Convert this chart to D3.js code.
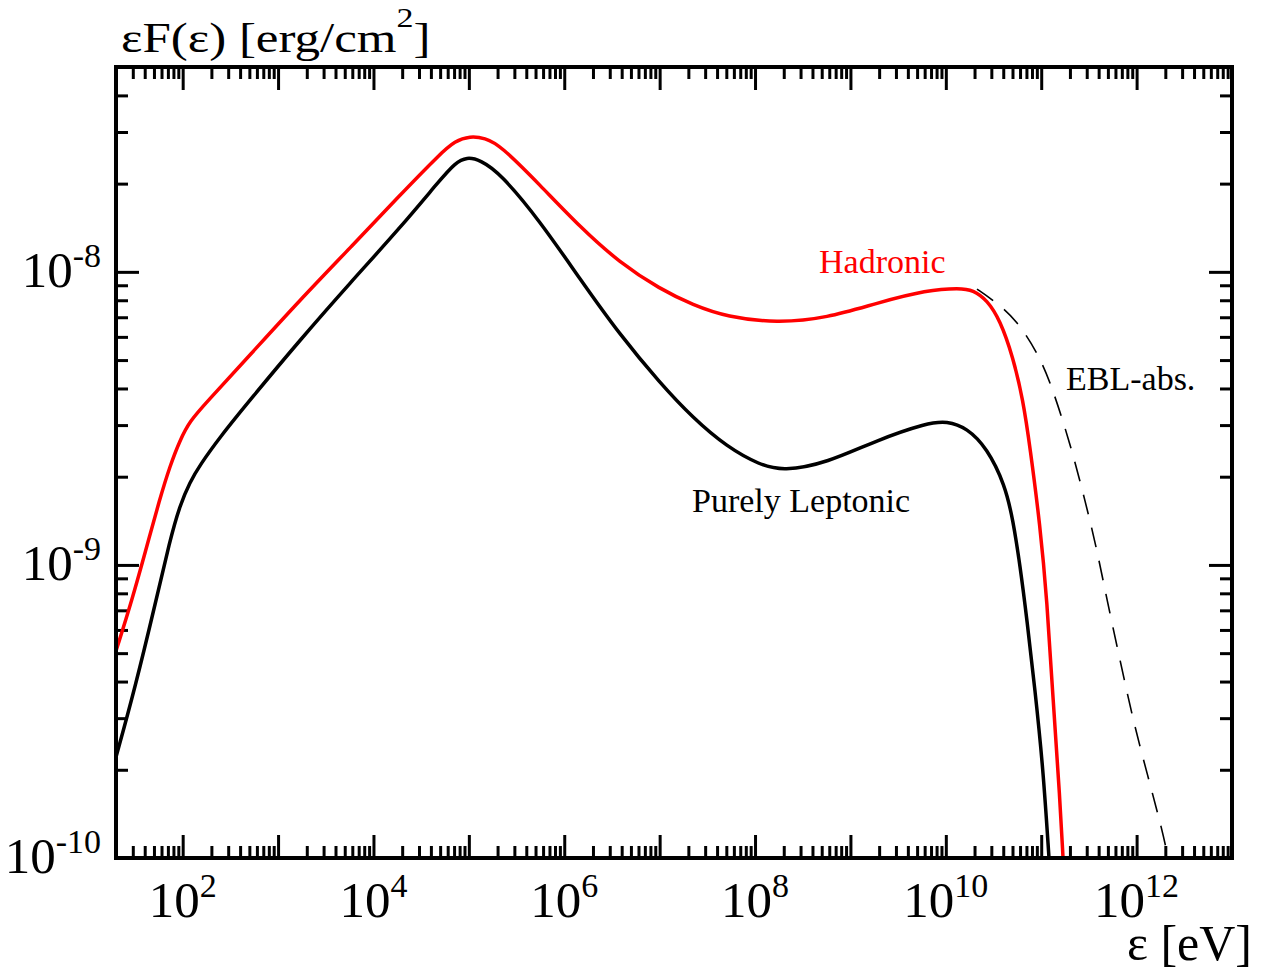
<!DOCTYPE html>
<html><head><meta charset="utf-8">
<script src="https://cdn.jsdelivr.net/npm/d3@7"></script>
<style>
body{margin:0;background:#fff}
svg{display:block}
text{font-family:"Liberation Serif","Times New Roman",serif;fill:#000}
</style>
</head><body>
<svg id="chart" width="1271" height="973"></svg>
<script>
// ---- data (energy in eV, flux in erg/cm^2) ----
const leptonicE = [20, 31.6, 51.3, 73.6, 93.7, 119.3, 151.9, 246, 507.6, 1697, 5675, 1.897e4, 4.982e4, 7.155e4, 9.56e4, 1.309e5, 2.121e5, 5.569e5, 1.463e6, 3.841e6, 1.009e7, 2.237e7, 5.083e7, 1.127e8, 1.964e8, 5.681e8, 1.899e9, 6.35e9, 1.029e10, 1.667e10, 2.70e10, 4.173e10, 5.06e10, 5.993e10, 7.096e10, 8.605e10, 1.044e11, 1.207e11];
const leptonicF = [2.21e-10, 3.80e-10, 7.30e-10, 1.217e-9, 1.601e-9, 1.919e-9, 2.193e-9, 2.732e-9, 3.654e-9, 5.855e-9, 9.16e-9, 1.411e-8, 2.057e-8, 2.351e-8, 2.466e-8, 2.408e-8, 2.174e-8, 1.491e-8, 9.45e-9, 6.09e-9, 4.175e-9, 3.171e-9, 2.526e-9, 2.193e-9, 2.091e-9, 2.227e-9, 2.668e-9, 3.05e-9, 3.098e-9, 2.932e-9, 2.506e-9, 1.874e-9, 1.423e-9, 9.99e-10, 6.49e-10, 3.743e-10, 2.044e-10, 1.0e-10];

const hadronicE = [20, 29.4, 40.27, 57.84, 73.6, 93.7, 119.3, 171.4, 507.6, 1697, 5675, 1.897e4, 4.982e4, 7.155e4, 1.028e5, 1.476e5, 2.121e5, 5.569e5, 1.463e6, 3.841e6, 1.009e7, 2.237e7, 5.083e7, 1.699e8, 5.681e8, 1.899e9, 6.35e9, 1.408e10, 1.927e10, 2.70e10, 3.698e10, 5.06e10, 6.45e10, 7.632e10, 9.718e10, 1.151e11, 1.330e11, 1.575e11, 1.693e11];
const hadronicF = [5.085e-10, 7.59e-10, 1.098e-9, 1.692e-9, 2.176e-9, 2.668e-9, 3.098e-9, 3.541e-9, 5.203e-9, 8.017e-9, 1.206e-8, 1.829e-8, 2.525e-8, 2.796e-8, 2.908e-8, 2.862e-8, 2.709e-8, 1.978e-8, 1.422e-8, 1.072e-8, 8.737e-9, 7.703e-9, 7.015e-9, 6.69e-9, 6.958e-9, 7.83e-9, 8.67e-9, 8.81e-9, 8.67e-9, 8.017e-9, 6.853e-9, 5.122e-9, 3.654e-9, 2.526e-9, 1.368e-9, 7.59e-10, 3.46e-10, 1.577e-10, 1.0e-10];

const eblE = [2.122e10, 3.123e10, 5.573e10, 9.718e10, 1.330e11, 2.004e11, 2.877e11, 3.844e11, 4.894e11, 6.699e11, 9.168e11, 1.285e12, 1.891e12, 2.134e12];
const eblF = [8.737e-9, 8.017e-9, 6.853e-9, 5.122e-9, 3.952e-9, 2.606e-9, 1.665e-9, 1.125e-9, 7.59e-10, 4.74e-10, 2.957e-10, 1.95e-10, 1.217e-10, 1.0e-10];

const xLabelExponents = [2, 4, 6, 8, 10, 12];
const yLabelExponents = [-8, -9, -10];
const seriesLabels = ["Hadronic", "Purely Leptonic", "EBL-abs."];
const titleText = "εF(ε) [erg/cm";
const xTitleText = "ε [eV]";

// ---- layout ----
const L = 116, R = 1232, T = 67, B = 858;
const svg = d3.select("#chart");
const x = d3.scaleLog().domain([20, 1e13]).range([L, R]);
const y = d3.scaleLog().domain([1e-10, 5e-8]).range([B, T]);

function decadeTicks(lo, hi) {
  const major = [], minor = [];
  for (let e = Math.floor(Math.log10(lo)); e <= Math.ceil(Math.log10(hi)); e++) {
    for (let m = 1; m <= 9; m++) {
      const v = m * Math.pow(10, e);
      if (v <= lo * 1.0001 || v >= hi * 0.9999) continue;
      (m === 1 ? major : minor).push(v);
    }
  }
  return {major, minor};
}
const xt = decadeTicks(20, 1e13);
const yt = decadeTicks(1e-10, 5e-8);

const MAJ = 23, MIN = 12;
function styleAxis(g) {
  g.select(".domain").remove();
  g.selectAll(".tick text").remove();
  g.selectAll(".tick line").attr("stroke", "#000").attr("stroke-width", 3);
}
svg.append("g").attr("transform", `translate(0,${B})`).call(d3.axisBottom(x).tickValues(xt.major).tickSize(-MAJ)).call(styleAxis);
svg.append("g").attr("transform", `translate(0,${B})`).call(d3.axisBottom(x).tickValues(xt.minor).tickSize(-MIN)).call(styleAxis);
svg.append("g").attr("transform", `translate(0,${T})`).call(d3.axisTop(x).tickValues(xt.major).tickSize(-MAJ)).call(styleAxis);
svg.append("g").attr("transform", `translate(0,${T})`).call(d3.axisTop(x).tickValues(xt.minor).tickSize(-MIN)).call(styleAxis);
svg.append("g").attr("transform", `translate(${L},0)`).call(d3.axisLeft(y).tickValues(yt.major).tickSize(-MAJ)).call(styleAxis);
svg.append("g").attr("transform", `translate(${L},0)`).call(d3.axisLeft(y).tickValues(yt.minor).tickSize(-MIN)).call(styleAxis);
svg.append("g").attr("transform", `translate(${R},0)`).call(d3.axisRight(y).tickValues(yt.major).tickSize(-MAJ)).call(styleAxis);
svg.append("g").attr("transform", `translate(${R},0)`).call(d3.axisRight(y).tickValues(yt.minor).tickSize(-MIN)).call(styleAxis);

// ---- curves ----
svg.append("clipPath").attr("id", "clip").append("rect").attr("x", L).attr("y", T).attr("width", R - L).attr("height", B - T);
const line = d3.line().x(d => x(d[0])).y(d => y(d[1])).curve(d3.curveBasis);
const plot = svg.append("g").attr("clip-path", "url(#clip)");
plot.append("path").datum(eblE.map((e, i) => [e, eblF[i]]))
  .attr("d", line).attr("fill", "none").attr("stroke", "#000").attr("stroke-width", 1.6).attr("stroke-dasharray", "20,14");
plot.append("path").datum(leptonicE.map((e, i) => [e, leptonicF[i]]))
  .attr("d", line).attr("fill", "none").attr("stroke", "#000").attr("stroke-width", 3.5);
plot.append("path").datum(hadronicE.map((e, i) => [e, hadronicF[i]]))
  .attr("d", line).attr("fill", "none").attr("stroke", "#ff0000").attr("stroke-width", 3.5);

// ---- frame ----
svg.append("rect").attr("x", L).attr("y", T).attr("width", R - L).attr("height", B - T)
  .attr("fill", "none").attr("stroke", "#000").attr("stroke-width", 4);

// ---- tick labels ----
xLabelExponents.forEach(p => {
  const t = svg.append("text").attr("x", x(Math.pow(10, p))).attr("y", 917)
    .attr("text-anchor", "middle").attr("font-size", 51);
  t.append("tspan").text("10");
  t.append("tspan").attr("dy", -20).attr("font-size", 34).text(p);
});
yLabelExponents.forEach(p => {
  const t = svg.append("text").attr("x", 101).attr("y", y(Math.pow(10, p)) + 15)
    .attr("text-anchor", "end").attr("font-size", 51);
  t.append("tspan").text("10");
  t.append("tspan").attr("dy", -20).attr("font-size", 34).text("-" + Math.abs(p));
});

// ---- titles ----
const tt = svg.append("text").attr("transform", "translate(121,52) scale(1,0.82)").attr("font-size", 51);
tt.append("tspan").text(titleText);
tt.append("tspan").attr("dy", -30).attr("font-size", 34).text("2");
tt.append("tspan").attr("dy", 30).text("]");

svg.append("text").attr("x", 1252).attr("y", 960).attr("text-anchor", "end").attr("font-size", 50).text(xTitleText);

// ---- series labels ----
svg.append("text").attr("x", 819).attr("y", 273).attr("font-size", 34).style("fill", "#ff0000").text(seriesLabels[0]);
svg.append("text").attr("x", 692).attr("y", 512).attr("font-size", 34).text(seriesLabels[1]);
svg.append("text").attr("x", 1066).attr("y", 390).attr("font-size", 34).text(seriesLabels[2]);
</script>
</body></html>
